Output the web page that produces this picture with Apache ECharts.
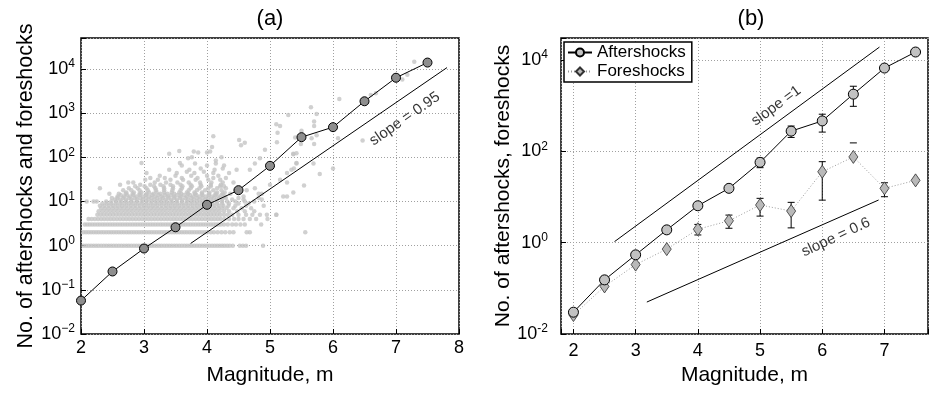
<!DOCTYPE html>
<html><head><meta charset="utf-8">
<script src="https://cdn.jsdelivr.net/npm/echarts@6/dist/echarts.min.js"></script>
<style>html,body{margin:0;padding:0;background:#fff}#c{width:931px;height:396px}</style>
</head><body><div id="c"></div>
<script>
const FONT = '"Liberation Sans", Arial, Helvetica, sans-serif';

// ---------- Panel (a) ----------
const magA = [2, 2.5, 3, 3.5, 4, 4.5, 5, 5.5, 6, 6.5, 7, 7.5];
const countA = [0.057, 0.26, 0.86, 2.6, 8.4, 18, 64, 285, 480, 1850, 6300, 13900];
const slopeAM = [3.74, 7.81];
const slopeAN = [1.12, 10700];
const slopeALabelPos = [7.14, 740];
const xTicksA = [2, 3, 4, 5, 6, 7, 8];
const yExpA = [-2, -1, 0, 1, 2, 3, 4];

// individual earthquakes: magnitude lists for count = 1..4
const band1M = [2.04,2.08,2.12,2.16,2.2,2.24,2.28,2.32,2.36,2.4,2.44,2.48,2.52,2.56,2.6,2.64,2.68,2.72,2.76,2.8,2.84,2.88,2.92,2.96,3.0,3.04,3.08,3.12,3.16,3.2,3.24,3.28,3.32,3.36,3.4,3.44,3.48,3.52,3.56,3.6,3.64,3.68,3.72,3.76,3.8,3.84,3.88,3.92,3.96,4.0,4.04,4.08,4.12,4.16,4.2,4.24,4.28,4.32,4.36,4.41,4.52,4.57,4.62,4.89];
const band2M = [2.04,2.08,2.12,2.16,2.2,2.24,2.28,2.32,2.36,2.4,2.44,2.48,2.52,2.56,2.6,2.64,2.68,2.72,2.76,2.8,2.84,2.88,2.92,2.96,3.0,3.04,3.08,3.12,3.16,3.2,3.24,3.28,3.32,3.36,3.4,3.44,3.48,3.52,3.56,3.6,3.64,3.68,3.72,3.76,3.8,3.84,3.88,3.92,3.96,4.0,4.06,4.11,4.17,4.23,4.29,4.36,4.42,4.63,4.68];
const band3M = [2.06,2.1,2.14,2.18,2.22,2.26,2.3,2.34,2.38,2.42,2.46,2.5,2.54,2.58,2.62,2.66,2.7,2.74,2.78,2.82,2.86,2.9,2.94,2.98,3.02,3.06,3.1,3.14,3.18,3.22,3.26,3.3,3.34,3.38,3.42,3.46,3.5,3.54,3.58,3.62,3.66,3.7,3.74,3.78,3.82,3.86,3.9,3.94,3.98,4.02,4.06,4.1,4.14,4.18,4.22,4.27,4.33,4.4,4.46,4.53,4.6,4.86];
const band4M = [2.12,2.17,2.22,2.27,2.32,2.37,2.42,2.47,2.52,2.57,2.62,2.67,2.72,2.77,2.82,2.87,2.92,2.97,3.02,3.07,3.12,3.17,3.22,3.27,3.32,3.37,3.42,3.47,3.52,3.57,3.62,3.67,3.72,3.77,3.82,3.87,3.92,3.97,4.02,4.07,4.12,4.17,4.22,4.28,4.35,4.43,4.5,4.58,4.68,4.78,4.96];
// higher counts: [count, magnitudes]
const cloudRows = [
  [5, [2.26,2.31,2.36,2.41,2.46,2.51,2.56,2.61,2.66,2.71,2.76,2.81,2.86,2.91,2.96,3.01,3.06,3.11,3.16,3.21,3.26,3.31,3.36,3.41,3.46,3.51,3.56,3.61,3.66,3.71,3.76,3.81,3.86,3.91,3.96,4.01,4.06,4.11,4.16,4.21,4.27,4.33,4.4,4.5,4.62,4.72,4.84,4.95,5.1]],
  [6, [2.28,2.34,2.4,2.46,2.52,2.58,2.64,2.7,2.76,2.82,2.88,2.94,3.0,3.06,3.12,3.18,3.24,3.3,3.36,3.42,3.48,3.54,3.6,3.66,3.72,3.78,3.84,3.9,3.96,4.02,4.08,4.14,4.2,4.27,4.35,4.48,4.6,4.75]],
  [7, [2.32,2.38,2.44,2.5,2.56,2.62,2.68,2.74,2.8,2.86,2.92,2.98,3.04,3.1,3.16,3.22,3.28,3.34,3.4,3.46,3.52,3.58,3.64,3.7,3.76,3.82,3.88,3.94,4.0,4.06,4.12,4.18,4.24,4.31,4.42,4.55,4.7]],
  [8, [2.3,2.37,2.44,2.51,2.58,2.65,2.72,2.79,2.86,2.93,3.0,3.07,3.14,3.21,3.28,3.35,3.42,3.49,3.56,3.63,3.7,3.77,3.84,3.91,3.98,4.05,4.12,4.19,4.26,4.34,4.45,4.62,4.9]],
  [9, [2.34,2.41,2.48,2.55,2.62,2.69,2.76,2.83,2.9,2.97,3.04,3.11,3.18,3.25,3.32,3.39,3.46,3.53,3.6,3.67,3.74,3.81,3.88,3.95,4.02,4.09,4.16,4.24,4.35,4.5,4.66]],
  [10, [2.09,2.2,2.25,2.4,2.48,2.56,2.64,2.72,2.8,2.88,2.96,3.04,3.12,3.2,3.28,3.36,3.44,3.52,3.6,3.68,3.76,3.84,3.92,4.0,4.08,4.16,4.24,4.32,4.45,4.6,4.75]],
  [11, [2.54,2.62,2.71,2.8,2.89,2.98,3.07,3.16,3.25,3.34,3.43,3.52,3.61,3.7,3.79,3.88,3.97,4.06,4.15,4.24,4.4,4.58,4.87]],
  [12, [2.49,2.58,2.67,2.76,2.85,2.94,3.03,3.12,3.21,3.3,3.39,3.48,3.57,3.66,3.75,3.84,3.93,4.02,4.11,4.2,4.3,4.5,4.82]],
  [13, [2.58,2.68,2.78,2.88,2.98,3.08,3.18,3.28,3.38,3.48,3.58,3.68,3.78,3.88,3.98,4.08,4.18,4.28,4.58,5.21,5.27]],
  [14, [2.63,2.73,2.83,2.93,3.03,3.13,3.23,3.33,3.43,3.53,3.63,3.73,3.83,3.93,4.03,4.13,4.23]],
  [15, [2.45,2.6,2.71,2.82,2.93,3.04,3.15,3.26,3.37,3.48,3.59,3.7,3.81,3.92,4.03,4.14,4.25,4.37,4.82,4.87]],
  [16, [2.72,2.84,2.96,3.08,3.2,3.32,3.44,3.56,3.68,3.8,3.92,4.04,4.16,4.28,5.37]],
  [18, [2.67,2.8,2.93,3.06,3.19,3.32,3.45,3.58,3.71,3.84,3.97,4.1,4.23,4.45,4.63]],
  [20, [2.3,2.76,2.9,3.04,3.18,3.32,3.46,3.6,3.74,3.88,4.02,4.16,4.3,4.76]],
  [22, [2.86,3.01,3.16,3.31,3.46,3.61,3.76,3.91,4.06,4.21,4.27]],
  [24, [2.62,2.94,3.1,3.26,3.42,3.58,3.74,3.9,4.06,4.22,5.0]],
  [27, [2.75,2.83,3.17,3.35,3.53,3.71,3.89,4.07,4.25,4.42,5.27]],
  [31, [3.02,3.22,3.42,3.62,3.82,4.02,4.21,5.16]],
  [34, [3.1,3.33,3.6,3.85,4.1,4.3]],
  [38, [3.25,3.5,3.75,4.0,4.18]],
  [44, [3.04,3.52,3.8,4.1,4.35,5.27]],
  [47, [3.68,3.95]],
  [52, [3.4,3.72,4.12,4.47,4.68,5.34]],
  [56, [3.9,4.25,5.38,6.0]],
  [65, [3.6,4.0,4.27]],
  [72, [3.81,4.14,4.76,5.42,5.69]],
  [74, [2.96,3.57]],
  [85, [4.14]],
  [95, [3.7,4.84]],
  [100, [3.76,4.23]],
  [120, [3.4,5.37]],
  [128, [3.86,4.0]],
  [135, [3.79,4.05]],
  [139, [3.56]],
  [148, [4.92]],
  [170, [4.08]],
  [186, [4.54]],
  [214, [4.6]],
  [219, [5.11]],
  [245, [4.51]],
  [300, [4.1]]
];
const sparseA = [[5.12,360],[5.16,510],[5.1,560],[5.29,910],[5.4,280],[5.5,400],[5.49,200],[5.66,270],[5.74,316],[5.7,200],[5.7,510],[5.7,645],[5.74,955],[5.65,1350],[6.08,270],[6.47,240],[6.1,2090],[6.6,2570],[6.68,2800],[7.1,5750],[7.18,7400],[7.29,14500],[5.79,42],[5.54,23],[5.56,2],[5.1,5],[5.42,123],[5.37,117],[5.42,74]];

// ---------- Panel (b) ----------
const magB = [2, 2.5, 3, 3.5, 4, 4.5, 5, 5.5, 6, 6.5, 7, 7.5];
const afterB = [0.030, 0.153, 0.54, 1.9, 6.4, 15.4, 57, 275, 460, 1770, 6600, 14800];
const foreB = [0.026, 0.11, 0.33, 0.72, 1.96, 3.0, 6.65, 4.9, 35.5, 75, 15.4, 23];
const afterErrM = [5, 5.5, 6, 6.5];
const afterErrLo = [43.6, 200, 262, 960];
const afterErrHi = [70.5, 355, 645, 2640];
const foreErrM = [4, 4.5, 5, 5.5, 6, 6.5, 7];
const foreErrLo = [1.47, 2.06, 3.8, 2.1, 8.5, 0, 10.1];
const foreErrHi = [2.5, 4.0, 9.3, 7.6, 59, 152, 20.4];
const slope1M = [2.66, 6.92];
const slope1N = [1.05, 19000];
const slope06M = [3.18, 6.906];
const slope06N = [0.05, 8.55];
const slope1LabelPos = [5.26, 980];
const slope06LabelPos = [6.22, 1.31];
const xTicksB = [2, 3, 4, 5, 6, 7];
const yExpB = [-2, 0, 2, 4];

// ---------- build ----------
const scatterA = [];
band1M.forEach(m => scatterA.push([m, 1]));
band2M.forEach(m => scatterA.push([m, 2]));
band3M.forEach(m => scatterA.push([m, 3]));
band4M.forEach(m => scatterA.push([m, 4]));
cloudRows.forEach(r => r[1].forEach(m => scatterA.push([m, r[0]])));
sparseA.forEach(p => scatterA.push(p));

const pairs = (xs, ys) => xs.map((x, i) => [x, ys[i]]);
const errData = (ms, lo, hi) => ms.map((m, i) => [m, lo[i], hi[i]]);

function supFmt(exps, minus) {
  return function (v) {
    const e = Math.log10(v);
    const r = Math.round(e);
    if (Math.abs(e - r) > 1e-6 || exps.indexOf(r) < 0) return '';
    return '{b|10}{s|' + (r < 0 ? minus + (-r) : r) + '}';
  };
}
const richSup = {
  b: { fontSize: 18, lineHeight: 22, fontFamily: FONT, color: '#000' },
  s: { fontSize: 12, lineHeight: 12, verticalAlign: 'top', fontFamily: FONT, color: '#000' }
};

function errorBarRender(params, api) {
  const m = api.value(0), lo = api.value(1), hi = api.value(2);
  const pHi = api.coord([m, hi]);
  const hw = 3.5;
  const st = { stroke: '#000', lineWidth: 1 };
  const ch = [{ type: 'line', shape: { x1: pHi[0] - hw, y1: pHi[1], x2: pHi[0] + hw, y2: pHi[1] }, style: st }];
  if (lo > 0) {
    const pLo = api.coord([m, lo]);
    ch.push({ type: 'line', shape: { x1: pLo[0], y1: pLo[1], x2: pHi[0], y2: pHi[1] }, style: st });
    ch.push({ type: 'line', shape: { x1: pLo[0] - hw, y1: pLo[1], x2: pLo[0] + hw, y2: pLo[1] }, style: st });
  }
  return { type: 'group', children: ch };
}

const gridLine = { show: true, lineStyle: { color: '#a0a0a0', width: 1, type: [1, 2] } };
const tick = { show: true, inside: true, length: 5, lineStyle: { color: '#000', width: 1 } };
const nameStyle = { fontSize: 21, fontFamily: FONT, color: '#000' };
const labelText = (txt, rot) => ({ show: true, position: 'inside', formatter: txt, rotate: rot,
  fontSize: 15, fontFamily: FONT, color: '#000' });

const chart = echarts.init(document.getElementById('c'), null, { renderer: 'canvas' });
chart.setOption({
  animation: false,
  textStyle: { fontFamily: FONT },
  graphic: [
    { type: 'text', x: 270, y: 19, style: { text: '(a)', font: '22px "Liberation Sans", Arial, sans-serif', fill: '#000', align: 'center', verticalAlign: 'middle' } },
    { type: 'text', x: 751, y: 19, style: { text: '(b)', font: '22px "Liberation Sans", Arial, sans-serif', fill: '#000', align: 'center', verticalAlign: 'middle' } }
  ],
  legend: {
    data: ['Aftershocks', 'Foreshocks'],
    orient: 'vertical', left: 564, top: 42,
    itemWidth: 24, itemHeight: 10, itemGap: 2,
    padding: [2, 6, 2, 3],
    borderColor: '#000', borderWidth: 1.5, backgroundColor: '#fff',
    textStyle: { fontSize: 17, fontFamily: FONT, color: '#000' }
  },
  grid: [
    { left: 81, top: 38, width: 378, height: 296, show: true, borderColor: '#000', borderWidth: 1.5, backgroundColor: 'transparent' },
    { left: 561, top: 38, width: 377, height: 296, show: true, borderColor: '#000', borderWidth: 1.5, backgroundColor: 'transparent' }
  ],
  xAxis: [
    { gridIndex: 0, type: 'value', min: 2, max: 8, interval: 1,
      axisLine: { show: false }, axisTick: tick, splitLine: gridLine,
      axisLabel: { fontSize: 18, color: '#000', margin: 5, formatter: v => xTicksA.indexOf(v) >= 0 ? String(v) : '' },
      name: 'Magnitude, m', nameLocation: 'middle', nameGap: 31, nameTextStyle: nameStyle },
    { gridIndex: 1, type: 'value', min: 1.8, max: 7.7, splitNumber: 6,
      axisLine: { show: false }, axisTick: tick, splitLine: gridLine,
      axisLabel: { fontSize: 18, color: '#000', margin: 8, formatter: v => xTicksB.indexOf(v) >= 0 ? String(v) : '' },
      name: 'Magnitude, m', nameLocation: 'middle', nameGap: 31, nameTextStyle: nameStyle }
  ],
  yAxis: [
    { gridIndex: 0, type: 'log', logBase: 10, min: 0.01, max: 50000,
      axisLine: { show: false }, axisTick: tick, splitLine: gridLine,
      axisLabel: { margin: 6, formatter: supFmt(yExpA, '\u2212'), rich: richSup },
      name: 'No. of aftershocks and foreshocks', nameLocation: 'middle', nameGap: 43,
      nameTextStyle: { fontSize: 21.5, fontFamily: FONT, color: '#000' } },
    { gridIndex: 1, type: 'log', logBase: 100, min: 0.01, max: 30000,
      axisLine: { show: false }, axisTick: tick, splitLine: gridLine,
      axisLabel: { margin: 13, formatter: supFmt(yExpB, '-'), rich: richSup },
      name: 'No. of aftershocks, foreshocks', nameLocation: 'middle', nameGap: 43, nameTextStyle: nameStyle }
  ],
  series: [
    // panel (a)
    { type: 'scatter', xAxisIndex: 0, yAxisIndex: 0, data: scatterA, symbolSize: 4.5, silent: true,
      itemStyle: { color: '#c4c4c4' }, z: 1 },
    { type: 'line', xAxisIndex: 0, yAxisIndex: 0, data: pairs(slopeAM, slopeAN), symbol: 'none',
      lineStyle: { color: '#000', width: 1 }, z: 2, silent: true },
    { type: 'line', xAxisIndex: 0, yAxisIndex: 0, data: pairs(magA, countA), symbol: 'circle', symbolSize: 9,
      lineStyle: { color: '#000', width: 1 }, itemStyle: { color: '#8e8e8e', borderColor: '#000', borderWidth: 1 }, z: 3 },
    { type: 'scatter', xAxisIndex: 0, yAxisIndex: 0, data: [slopeALabelPos], symbolSize: 2,
      itemStyle: { color: 'rgba(0,0,0,0)' }, label: labelText('slope = 0.95', 35), z: 4, silent: true },
    // panel (b)
    { type: 'line', xAxisIndex: 1, yAxisIndex: 1, data: pairs(slope1M, slope1N), symbol: 'none',
      lineStyle: { color: '#000', width: 1 }, z: 2, silent: true },
    { type: 'line', xAxisIndex: 1, yAxisIndex: 1, data: pairs(slope06M, slope06N), symbol: 'none',
      lineStyle: { color: '#000', width: 1 }, z: 2, silent: true },
    { type: 'custom', xAxisIndex: 1, yAxisIndex: 1, data: errData(afterErrM, afterErrLo, afterErrHi),
      encode: { x: 0, y: 2 }, renderItem: errorBarRender, z: 2, silent: true },
    { type: 'custom', xAxisIndex: 1, yAxisIndex: 1, data: errData(foreErrM, foreErrLo, foreErrHi),
      encode: { x: 0, y: 2 }, renderItem: errorBarRender, z: 2, silent: true },
    { name: 'Foreshocks', type: 'line', xAxisIndex: 1, yAxisIndex: 1, data: pairs(magB, foreB),
      symbol: 'diamond', symbolSize: [9, 13],
      lineStyle: { color: '#9a9a9a', width: 1, type: [1, 2] },
      itemStyle: { color: '#b9b9b9', borderColor: '#333', borderWidth: 0.8 }, z: 3 },
    { name: 'Aftershocks', type: 'line', xAxisIndex: 1, yAxisIndex: 1, data: pairs(magB, afterB),
      symbol: 'circle', symbolSize: 10,
      lineStyle: { color: '#000', width: 1 },
      itemStyle: { color: '#c2c2c2', borderColor: '#000', borderWidth: 1 }, z: 4 },
    { type: 'scatter', xAxisIndex: 1, yAxisIndex: 1, data: [slope1LabelPos], symbolSize: 2,
      itemStyle: { color: 'rgba(0,0,0,0)' }, label: labelText('slope =1', 36), z: 5, silent: true },
    { type: 'scatter', xAxisIndex: 1, yAxisIndex: 1, data: [slope06LabelPos], symbolSize: 2,
      itemStyle: { color: 'rgba(0,0,0,0)' }, label: labelText('slope = 0.6', 25), z: 5, silent: true }
  ]
});
</script>
</body></html>
